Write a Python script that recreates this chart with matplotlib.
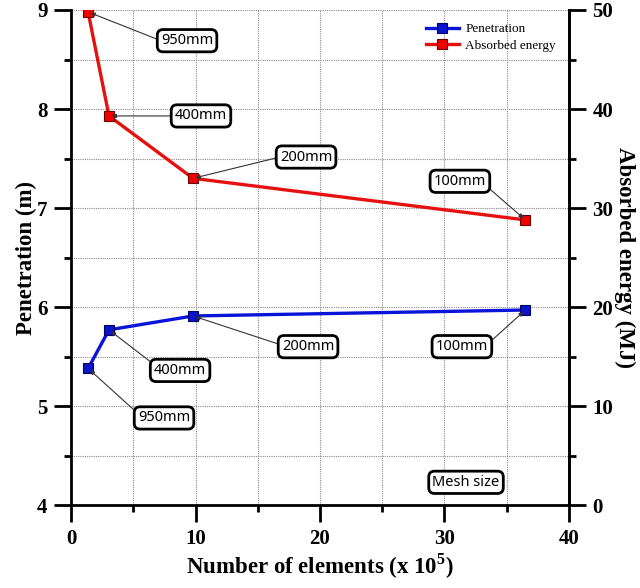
import numpy as np
import matplotlib
matplotlib.use('Agg')
import matplotlib.pyplot as plt
from matplotlib.ticker import MultipleLocator

# data
elements = [1.37, 3.05, 9.8, 36.5]          # x 10^5
penetration = [5.38, 5.77, 5.91, 5.97]     # m
energy = [49.8, 39.3, 33.0, 28.8]          # MJ
mesh_labels = ['950mm', '400mm', '200mm', '100mm']

plt.rcParams['font.family'] = ['Liberation Serif', 'DejaVu Serif']
plt.rcParams['mathtext.fontset'] = 'custom'
plt.rcParams['mathtext.rm'] = 'Liberation Serif'
plt.rcParams['mathtext.bf'] = 'Liberation Serif:bold'

fig = plt.figure(figsize=(6.4, 5.88), dpi=100)
ax = fig.add_axes([0.111, 0.141, 0.778, 0.842])
ax2 = ax.twinx()

lp, = ax.plot(elements, penetration, color='#0a14d8', lw=2.4, marker='s',
              ms=7, mfc='#0a14c8', mec='#00006a', mew=0.8, zorder=3,
              label='Penetration')
le, = ax2.plot(elements, energy, color='#e51010', lw=2.4, marker='s',
               ms=7, mfc='#f00000', mec='#6a0000', mew=0.8, zorder=3,
               label='Absorbed energy')

ax.set_xlim(0, 40)
ax.set_ylim(4, 9)
ax2.set_ylim(0, 50)

ax.xaxis.set_major_locator(MultipleLocator(10))
ax.xaxis.set_minor_locator(MultipleLocator(5))
ax.yaxis.set_major_locator(MultipleLocator(1))
ax.yaxis.set_minor_locator(MultipleLocator(0.5))
ax2.yaxis.set_major_locator(MultipleLocator(10))
ax2.yaxis.set_minor_locator(MultipleLocator(5))

ax.grid(True, which='both', ls=(0, (1, 1)), color='#8a8a8a', lw=0.8)

for a in (ax, ax2):
    a.spines['top'].set_visible(False)
    for s in ('left', 'right', 'bottom'):
        a.spines[s].set_linewidth(2)
    a.tick_params(which='major', direction='out', length=12, width=2,
                  labelsize=15, pad=5)
    a.tick_params(which='minor', direction='out', length=5, width=2)
ax2.spines['left'].set_visible(False)
ax2.spines['bottom'].set_visible(False)

for lab in ax.get_xticklabels() + ax.get_yticklabels() + ax2.get_yticklabels():
    lab.set_fontweight('bold')

ax.set_xlabel(r'Number of elements (x 10$^\mathbf{5}$)', fontsize=16.5,
              fontweight='bold', labelpad=2)
ax.set_ylabel('Penetration (m)', fontsize=16.5, fontweight='bold', labelpad=0)
ax2.set_ylabel('Absorbed energy (MJ)', fontsize=16.5, fontweight='bold',
               rotation=270, labelpad=16)

box = dict(boxstyle='round,pad=0.25,rounding_size=0.4', fc='white',
           ec='black', lw=2)
arrow = dict(arrowstyle='-|>', color='#333333', lw=0.8, mutation_scale=6,
             shrinkA=0, shrinkB=2)
txt_font = dict(family=['Noto Sans', 'DejaVu Sans'], fontsize=10.5)

# label box positions (layout)
red_pos = [(9.32, 46.9), (10.44, 39.3), (18.88, 35.15), (31.24, 32.7)]
red_rel = [(0.0, 0.5), (0.0, 0.5), (0.0, 0.5), (1.0, 0.2)]
blue_pos = [(7.47, 4.88), (8.76, 5.36), (19.04, 5.60), (31.4, 5.60)]
blue_rel = [(0.0, 0.8), (0.0, 0.9), (0.0, 0.6), (1.0, 0.7)]

for x, y, lab, p, r in zip(elements, energy, mesh_labels, red_pos, red_rel):
    ax2.annotate(lab, xy=(x, y), xytext=p, ha='center', va='center',
                 bbox=box, arrowprops=dict(arrow, relpos=r), zorder=5,
                 **txt_font)
for x, y, lab, p, r in zip(elements, penetration, mesh_labels, blue_pos, blue_rel):
    ax.annotate(lab, xy=(x, y), xytext=p, ha='center', va='center',
                bbox=box, arrowprops=dict(arrow, relpos=r), zorder=5,
                **txt_font)

ax.text(31.73, 4.23, 'Mesh size', ha='center', va='center', bbox=box,
        **txt_font)

ax2.legend(handles=[lp, le], loc='upper right', frameon=False, fontsize=9.5,
           handlelength=2.5, borderaxespad=0.6, handletextpad=0.5,
           labelspacing=0.3)

fig.savefig('out.png', dpi=100)
